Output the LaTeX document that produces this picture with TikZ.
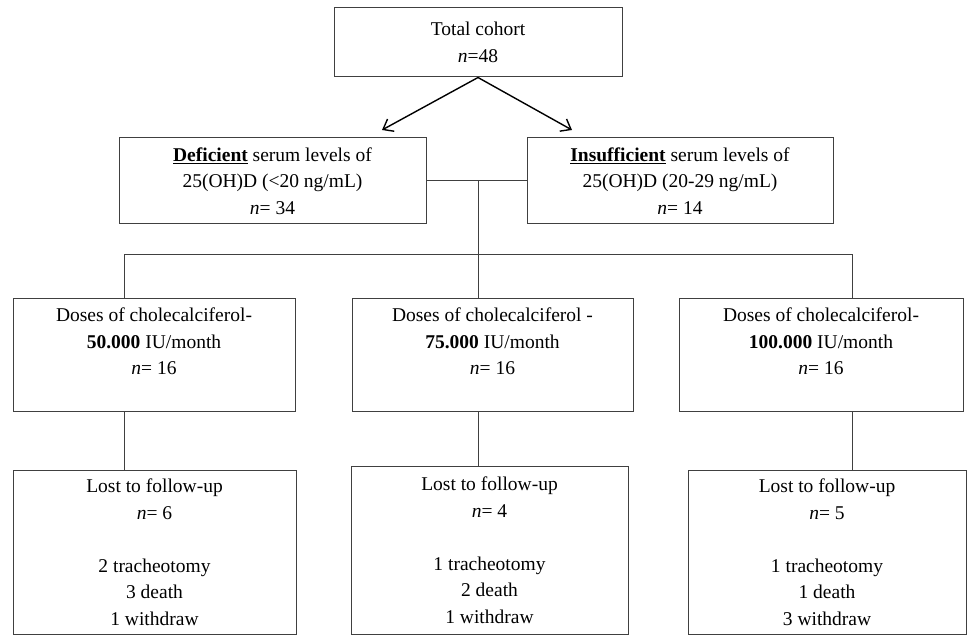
\documentclass[tikz,border=0pt]{standalone}
\usepackage{fontspec}
\setmainfont{Liberation Serif}
\usetikzlibrary{arrows.meta}

\begin{document}
\begin{tikzpicture}[x=1pt,y=-1pt,>={Straight Barb[length=9pt,width=14pt,line width=1.4pt]},
	font=\fontsize{19.5}{26.5}\selectfont,
	box/.style={draw=black!75,line width=1pt,align=center,inner sep=0pt},
	link/.style={draw=black!75,line width=1pt}]
	\useasboundingbox (0,0) rectangle (968,636);
	\node[box,minimum width=288pt,minimum height=69pt] (total) at (478,42.5) {Total cohort\\\textit{n}=48};
	\node[box,minimum width=307pt,minimum height=86pt] (def) at (272.5,181) {\underline{\textbf{Deficient}} serum levels of\\25(OH)D (<20 ng/mL)\\\textit{n}= 34};
	\node[box,minimum width=306pt,minimum height=86pt] (insuf) at (680,181) {\underline{\textbf{Insufficient}} serum levels of\\25(OH)D (20-29 ng/mL)\\\textit{n}= 14};
	\node[box,minimum width=282pt,minimum height=113pt] (dose1) at (154,354.5) {Doses of cholecalciferol-\\\textbf{50.000} IU/month\\\textit{n}= 16\\\mbox{}};
	\node[box,minimum width=281pt,minimum height=113pt] (dose2) at (492.5,354.5) {Doses of cholecalciferol -\\\textbf{75.000} IU/month\\\textit{n}= 16\\\mbox{}};
	\node[box,minimum width=284pt,minimum height=113pt] (dose3) at (821,354.5) {Doses of cholecalciferol-\\\textbf{100.000} IU/month\\\textit{n}= 16\\\mbox{}};
	\node[box,minimum width=283pt,minimum height=164pt] (lost1) at (154.5,552) {Lost to follow-up\\\textit{n}= 6\\[\baselineskip]2 tracheotomy\\3 death\\1 withdraw};
	\node[box,minimum width=277pt,minimum height=168pt] (lost2) at (489.5,550) {Lost to follow-up\\\textit{n}= 4\\[\baselineskip]1 tracheotomy\\2 death\\1 withdraw};
	\node[box,minimum width=278pt,minimum height=164pt] (lost3) at (827,552) {Lost to follow-up\\\textit{n}= 5\\[\baselineskip]1 tracheotomy\\1 death\\3 withdraw};
	\coordinate (tipL) at (382,130);
	\coordinate (tipR) at (572,130);
	\coordinate (join) at (478,181);
	\coordinate (split) at (478,254);
	\coordinate (hl) at (124,254);
	\coordinate (hr) at (852,254);
	\draw[->,line width=1.4pt] (total.south) -- (tipL);
	\draw[->,line width=1.4pt] (total.south) -- (tipR);
	\draw[link] (def.east) -- (insuf.west);
	\draw[link] (join) -- (split);
	\draw[link] (hl) -- (hr);
	\draw[link] (hl) -- (hl |- dose1.north);
	\draw[link] (split) -- (split |- dose2.north);
	\draw[link] (hr) -- (hr |- dose3.north);
	\draw[link] (hl |- dose1.south) -- (hl |- lost1.north);
	\draw[link] (split |- dose2.south) -- (split |- lost2.north);
	\draw[link] (hr |- dose3.south) -- (hr |- lost3.north);
\end{tikzpicture}
\end{document}
